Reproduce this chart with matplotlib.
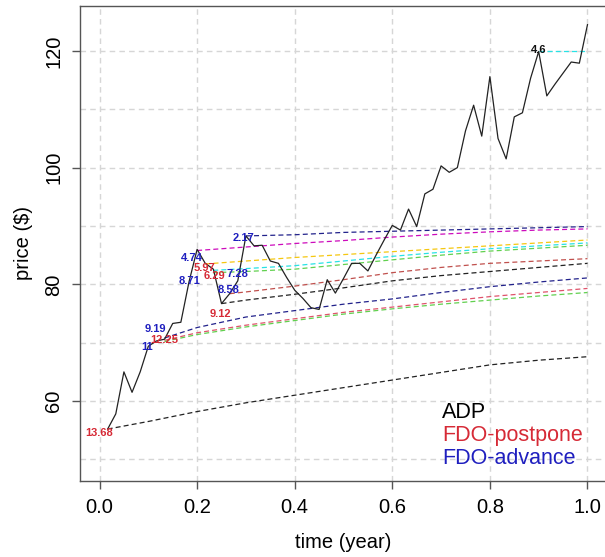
import numpy as np
import matplotlib
matplotlib.use("Agg")
from matplotlib import pyplot as plt

plt.rcParams['font.family'] = ['Liberation Sans', 'DejaVu Sans']

# simulated price path (ADP), one point every 1/60 year
path_t = np.arange(1, 61) / 60
path_y = [55.2, 57.8, 65.0, 61.5, 65.0, 69.4, 70.3, 70.6, 73.3, 73.5,
          80.4, 86.0, 83.6, 82.6, 76.7, 78.4, 80.6, 88.3, 86.6, 86.7,
          84.0, 83.6, 81.2, 79.0, 77.6, 76.0, 75.7, 80.8, 78.5, 81.0,
          83.6, 83.6, 82.3, 85.0, 87.6, 90.1, 89.3, 92.9, 89.9, 95.5,
          96.3, 100.3, 99.2, 100.0, 106.3, 110.7, 105.4, 115.6, 105.0, 101.5,
          108.7, 109.4, 115.3, 119.9, 112.3, 114.3, 116.2, 118.1, 117.9, 124.5]

black_low_t = [0.0167, 0.1, 0.2, 0.3, 0.4, 0.5, 0.6, 0.7, 0.8, 0.9, 1.0]
black_low_y = [55.2, 56.5, 58.2, 59.7, 61.0, 62.3, 63.6, 64.9, 66.2, 67.0, 67.6]

low_t = [0.133, 0.2, 0.3, 0.4, 0.5, 0.6, 0.7, 0.8, 0.9, 1.0]
navy_low_y = [70.8, 72.6, 74.4, 75.5, 76.6, 77.5, 78.6, 79.6, 80.4, 81.1]
red_low_y = [70.4, 71.7, 73.0, 74.1, 75.2, 76.1, 77.0, 77.9, 78.6, 79.3]
green_low_y = [70.2, 71.4, 72.7, 73.8, 74.9, 75.8, 76.6, 77.3, 78.0, 78.6]

magenta_t = [0.2, 0.3, 0.4, 0.5, 0.6, 0.7, 0.8, 0.9, 1.0]
magenta_y = [85.8, 86.4, 87.0, 87.5, 88.1, 88.6, 89.0, 89.3, 89.5]

yellow_t = [0.217, 0.3, 0.4, 0.5, 0.6, 0.7, 0.8, 0.9, 1.0]
yellow_y = [83.5, 84.0, 84.6, 85.1, 85.6, 86.1, 86.6, 87.1, 87.6]

mid_t = [0.233, 0.3, 0.4, 0.5, 0.6, 0.7, 0.8, 0.9, 1.0]
cyan_y = [82.4, 82.7, 83.2, 84.0, 84.8, 85.5, 86.1, 86.6, 87.1]
green_mid_y = [82.0, 82.2, 82.6, 83.4, 84.2, 85.0, 85.7, 86.2, 86.7]

black_mid_t = [0.25, 0.3, 0.4, 0.5, 0.6, 0.7, 0.8, 0.9, 1.0]
black_mid_y = [76.7, 77.3, 78.3, 79.4, 80.6, 81.5, 82.2, 82.9, 83.6]

brown_t = [0.267, 0.3, 0.4, 0.5, 0.6, 0.7, 0.8, 0.9, 1.0]
brown_y = [78.4, 78.7, 79.7, 80.8, 82.0, 82.9, 83.6, 84.0, 84.4]

navy_top_t = [0.3, 0.4, 0.5, 0.6, 0.7, 0.8, 0.9, 1.0]
navy_top_y = [88.3, 88.5, 88.9, 89.1, 89.3, 89.5, 89.7, 89.9]

cyan_short_t = [0.9, 0.933, 0.967, 1.0]
cyan_short_y = [120.0, 120.0, 120.0, 120.0]

# labels at decision points
lab_text = ["13.68", "11", "9.19", "12.25", "4.74", "8.71", "5.97", "6.29",
            "7.28", "8.58", "9.12", "2.17", "4.6"]
lab_t = [0.0, 0.097, 0.115, 0.132, 0.19, 0.185, 0.216, 0.236,
         0.283, 0.265, 0.248, 0.296, 0.90]
lab_y = [54.5, 69.3, 72.4, 70.4, 84.6, 80.6, 82.8, 81.4,
         81.7, 79.0, 74.9, 88.0, 120.1]
lab_col = ["r", "b", "b", "r", "b", "b", "r", "r", "b", "b", "r", "b", "k"]

RED = "#d62a36"
BLUE = "#1f1fbf"
cmap = {"r": RED, "b": BLUE, "k": "#111111"}

fig = plt.figure(figsize=(6.05, 5.57), dpi=100)
ax = fig.add_axes([80 / 605, 1 - 481 / 557, 527 / 605, 475 / 557])

for g in np.arange(0, 1.01, 0.2):
    ax.axvline(g, color="#d6d6d6", ls=(0, (4, 3)), lw=1, zorder=0)
for g in range(50, 121, 10):
    ax.axhline(g, color="#d6d6d6", ls=(0, (4, 3)), lw=1, zorder=0)

dash = (0, (4, 2.5))
ax.plot(black_low_t, black_low_y, color="#222222", ls=dash, lw=0.9)
ax.plot(low_t, navy_low_y, color="#22228b", ls=dash, lw=0.9)
ax.plot(low_t, red_low_y, color="#DF536B", ls=dash, lw=0.9)
ax.plot(low_t, green_low_y, color="#61D04F", ls=dash, lw=0.9)
ax.plot(magenta_t, magenta_y, color="#CD0BBC", ls=dash, lw=0.9)
ax.plot(yellow_t, yellow_y, color="#F5C710", ls=dash, lw=0.9)
ax.plot(mid_t, cyan_y, color="#28E2E5", ls=dash, lw=0.9)
ax.plot(mid_t, green_mid_y, color="#61D04F", ls=dash, lw=0.9)
ax.plot(black_mid_t, black_mid_y, color="#222222", ls=dash, lw=0.9)
ax.plot(brown_t, brown_y, color="#c0504d", ls=dash, lw=0.9)
ax.plot(navy_top_t, navy_top_y, color="#22228b", ls=dash, lw=0.9)
ax.plot(cyan_short_t, cyan_short_y, color="#28E2E5", ls=dash, lw=0.9)

ax.plot(path_t, path_y, color="#222222", lw=0.9)

for s, x, y, c in zip(lab_text, lab_t, lab_y, lab_col):
    ax.text(x, y, s, color=cmap[c], fontsize=8, fontweight="bold",
            ha="center", va="center")

ax.text(0.702, 58.1, "ADP", color="black", fontsize=15.5, ha="left", va="center")
ax.text(0.702, 54.1, "FDO-postpone", color=RED, fontsize=15.5, ha="left", va="center")
ax.text(0.702, 50.1, "FDO-advance", color=BLUE, fontsize=15.5, ha="left", va="center")

ax.set_xlim(-0.04, 1.04)
ax.set_ylim(46.3, 127.7)
ax.set_xticks(np.arange(0, 1.01, 0.2))
ax.set_xticklabels(["0.0", "0.2", "0.4", "0.6", "0.8", "1.0"])
ax.set_yticks([60, 80, 100, 120])
ax.tick_params(labelsize=14.5, length=6, width=1, color="#555555", pad=6)
for lab in ax.get_yticklabels():
    lab.set_rotation(90)
    lab.set_va("center")
for sp in ax.spines.values():
    sp.set_color("#555555")
    sp.set_linewidth(1)

ax.set_xlabel("time (year)", fontsize=14.5, labelpad=12)
ax.set_ylabel("price ($)", fontsize=14.5, labelpad=8)

fig.savefig("out.png", dpi=100)
